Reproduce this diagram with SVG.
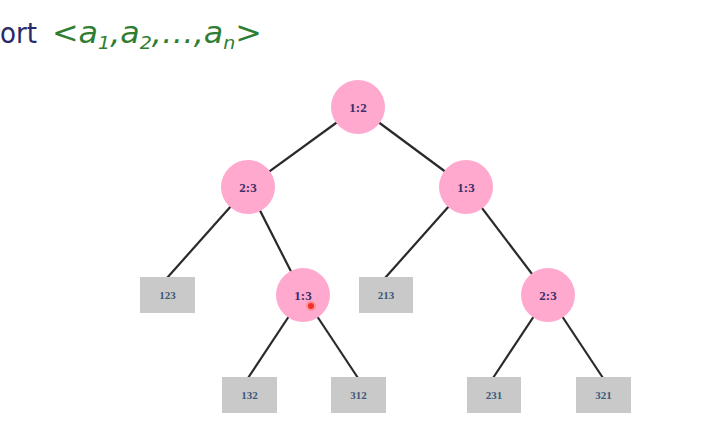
<svg xmlns="http://www.w3.org/2000/svg" width="724" height="444" viewBox="0 0 724 444">
<style>
.c{fill:#ffa9cf;}
.b{fill:#c9c9c9;}
.cl{font-family:"Liberation Serif",serif;font-weight:bold;font-size:13px;fill:#3d2f66;text-anchor:middle;}
.bl{font-family:"Liberation Serif",serif;font-weight:bold;font-size:11px;fill:#3e5878;text-anchor:middle;}
.e{stroke:#2a2a2a;stroke-width:2.2;fill:none;}
</style>
<rect width="724" height="444" fill="#ffffff"/>
<text x="0" y="43" font-family="DejaVu Sans, sans-serif" font-size="29" fill="#2a2a66" textLength="37" lengthAdjust="spacingAndGlyphs">ort</text>
<text x="52" y="43" font-family="DejaVu Sans, sans-serif" font-style="italic" font-size="30" fill="#2e7d32" textLength="210" lengthAdjust="spacingAndGlyphs">&lt;a<tspan font-size="18" dy="6">1</tspan><tspan dy="-6">,a</tspan><tspan font-size="18" dy="6">2</tspan><tspan dy="-6">,…,a</tspan><tspan font-size="18" dy="6">n</tspan><tspan dy="-6">&gt;</tspan></text>
<g id="edges">
<line class="e" x1="358" y1="107" x2="248" y2="187"/>
<line class="e" x1="358" y1="107" x2="466" y2="187"/>
<line class="e" x1="248" y1="187" x2="167" y2="278"/>
<line class="e" x1="248" y1="187" x2="303" y2="295"/>
<line class="e" x1="466" y1="187" x2="385" y2="278"/>
<line class="e" x1="466" y1="187" x2="548" y2="295"/>
<line class="e" x1="303" y1="295" x2="248" y2="378"/>
<line class="e" x1="303" y1="295" x2="358" y2="378"/>
<line class="e" x1="548" y1="295" x2="493" y2="378"/>
<line class="e" x1="548" y1="295" x2="603" y2="378"/>
</g>
<g id="n12"><circle class="c" cx="358" cy="107" r="27"/><text class="cl" x="358" y="112">1:2</text></g>
<g id="n23a"><circle class="c" cx="248" cy="187" r="27"/><text class="cl" x="248" y="192">2:3</text></g>
<g id="n13a"><circle class="c" cx="466" cy="187" r="27"/><text class="cl" x="466" y="192">1:3</text></g>
<g id="n13b"><circle class="c" cx="303" cy="295" r="27"/><text class="cl" x="303" y="300">1:3</text></g>
<g id="n23b"><circle class="c" cx="548" cy="295" r="27"/><text class="cl" x="548" y="300">2:3</text></g>
<g id="l123"><rect class="b" x="140" y="277" width="55" height="36"/><text class="bl" x="167.5" y="299">123</text></g>
<g id="l213"><rect class="b" x="359" y="277" width="54" height="36"/><text class="bl" x="386" y="299">213</text></g>
<g id="l132"><rect class="b" x="222" y="377" width="55" height="36"/><text class="bl" x="249.5" y="399">132</text></g>
<g id="l312"><rect class="b" x="331" y="377" width="55" height="36"/><text class="bl" x="358.5" y="399">312</text></g>
<g id="l231"><rect class="b" x="467" y="377" width="54" height="36"/><text class="bl" x="494" y="399">231</text></g>
<g id="l321"><rect class="b" x="576" y="377" width="55" height="36"/><text class="bl" x="603.5" y="399">321</text></g>
<circle cx="311" cy="306" r="4" fill="#f03030" stroke="#ff9090" stroke-width="2"/>
</svg>
